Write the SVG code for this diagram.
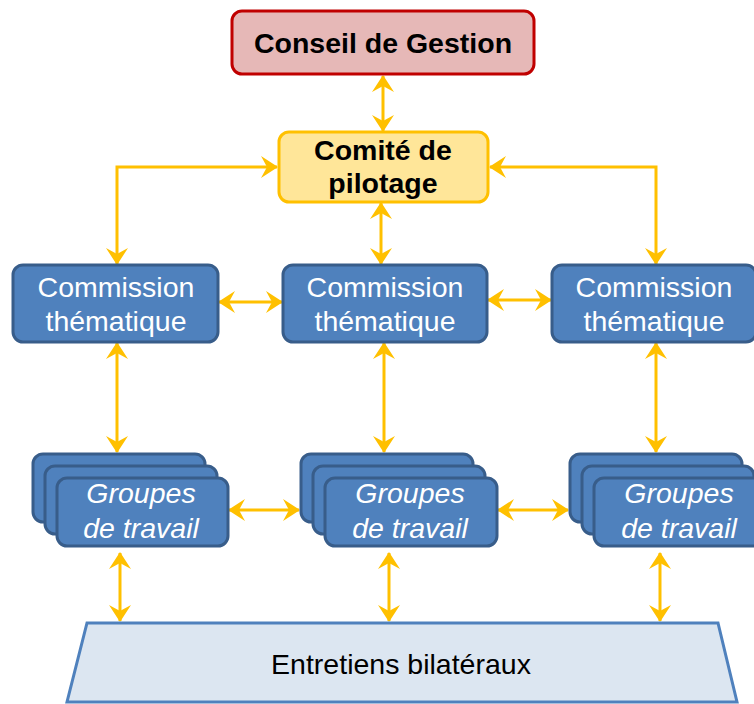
<svg xmlns="http://www.w3.org/2000/svg" width="754" height="704" viewBox="0 0 754 704">
<defs>
<style>
.blue{fill:#4f81bd;stroke:#385d8a;stroke-width:3}
.wt{font-family:"Liberation Sans",Arial,sans-serif;font-size:28.5px;fill:#fff;text-anchor:middle}
.it{font-style:italic}
.bk{font-family:"Liberation Sans",Arial,sans-serif;font-weight:bold;font-size:28.5px;fill:#000;text-anchor:middle}
.con{fill:none;stroke:#ffc000;stroke-width:3;marker-start:url(#ah);marker-end:url(#ah)}
</style>
<marker id="ah" viewBox="0 0 17 22" refX="16" refY="11" markerWidth="17" markerHeight="22" markerUnits="userSpaceOnUse" orient="auto-start-reverse">
<path d="M0,0 L17,11 L0,22 L6,11 Z" fill="#ffc000"/>
</marker>
</defs>
<g id="connectors">
<path class="con" d="M383,76 L383,131"/>
<path class="con" d="M277,167 L117,167 L117,264"/>
<path class="con" d="M490,167 L656,167 L656,264"/>
<path class="con" d="M381,203 L381,264"/>
<path class="con" d="M219,302 L282,302"/>
<path class="con" d="M488,300 L551,300"/>
<path class="con" d="M117,343 L117,452"/>
<path class="con" d="M384,343 L384,452"/>
<path class="con" d="M656,343 L656,452"/>
<path class="con" d="M229,510 L299,510"/>
<path class="con" d="M498,510 L568,510"/>
<path class="con" d="M120,553 L120,621"/>
<path class="con" d="M389,553 L389,621"/>
<path class="con" d="M660,553 L660,621"/>
</g>
<g id="conseil">
<rect x="232" y="11" width="302" height="63" rx="10" fill="#e6b8b7" stroke="#c00000" stroke-width="3"/>
<text class="bk" x="383" y="53">Conseil de Gestion</text>
</g>
<g id="comite">
<rect x="279" y="132" width="209" height="70" rx="10" fill="#ffe699" stroke="#ffc000" stroke-width="3"/>
<text class="bk" x="383" y="160">Comité de</text>
<text class="bk" x="383" y="193">pilotage</text>
</g>
<g id="commission1">
<rect class="blue" x="13" y="265" width="205" height="77" rx="10"/>
<text class="wt" x="116" y="297">Commission</text>
<text class="wt" x="116" y="331">thématique</text>
</g>
<g id="commission2">
<rect class="blue" x="283" y="265" width="204" height="77" rx="10"/>
<text class="wt" x="385" y="297">Commission</text>
<text class="wt" x="385" y="331">thématique</text>
</g>
<g id="commission3">
<rect class="blue" x="552" y="265" width="204" height="77" rx="10"/>
<text class="wt" x="654" y="297">Commission</text>
<text class="wt" x="654" y="331">thématique</text>
</g>
<g id="groupes1">
<rect class="blue" x="33" y="454" width="172" height="68" rx="10"/>
<rect class="blue" x="45" y="466" width="172" height="68" rx="10"/>
<rect class="blue" x="57" y="478" width="171" height="68" rx="10"/>
<text class="wt it" x="141" y="503">Groupes</text>
<text class="wt it" x="141" y="538">de travail</text>
</g>
<g id="groupes2">
<rect class="blue" x="301" y="454" width="172" height="68" rx="10"/>
<rect class="blue" x="313" y="466" width="172" height="68" rx="10"/>
<rect class="blue" x="325" y="478" width="172" height="68" rx="10"/>
<text class="wt it" x="410" y="503">Groupes</text>
<text class="wt it" x="410" y="538">de travail</text>
</g>
<g id="groupes3">
<rect class="blue" x="570" y="454" width="172" height="68" rx="10"/>
<rect class="blue" x="582" y="466" width="172" height="68" rx="10"/>
<rect class="blue" x="594" y="478" width="172" height="68" rx="10"/>
<text class="wt it" x="679" y="503">Groupes</text>
<text class="wt it" x="679" y="538">de travail</text>
</g>
<g id="entretiens">
<path d="M87,623 L718,623 L737,702 L67,702 Z" fill="#dce6f1" stroke="#4f81bd" stroke-width="3"/>
<text x="401" y="674" font-family="'Liberation Sans',Arial,sans-serif" font-size="28.5" fill="#000" text-anchor="middle">Entretiens bilatéraux</text>
</g>
</svg>
